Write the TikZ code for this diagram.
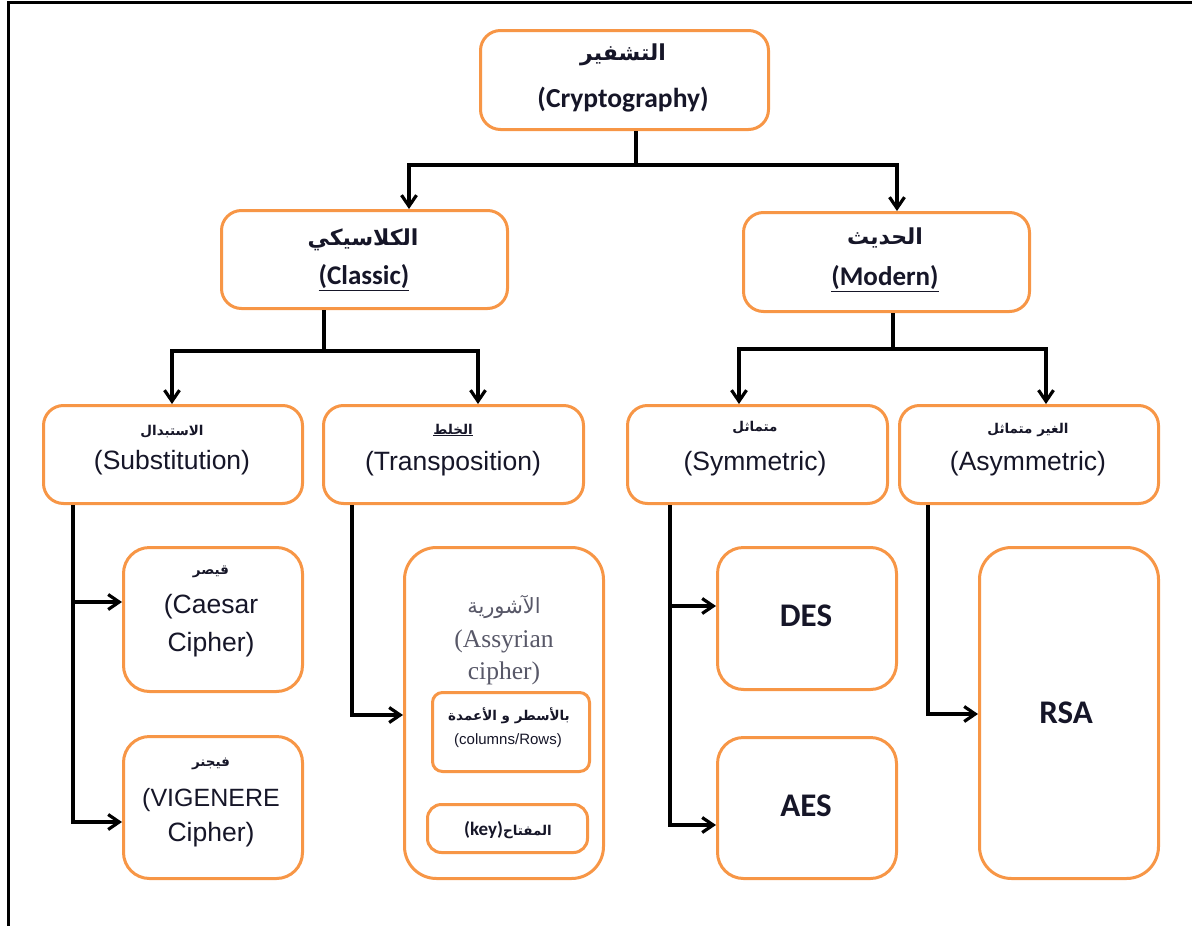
\documentclass[tikz,border=0pt]{standalone}
\usepackage{fontspec}
\usetikzlibrary{arrows.meta}
\setmainfont{Liberation Sans}
\newfontfamily\calibri{Carlito}
\newfontfamily\timesf{Liberation Serif}
\newfontfamily\arabicfont[Script=Arabic]{DejaVu Sans}
\TeXXeTstate=1
\definecolor{boxorange}{RGB}{247,150,70}
\definecolor{ink}{RGB}{22,22,40}
\definecolor{serifgray}{RGB}{88,88,104}
\newcommand{\artext}[1]{{\arabicfont\beginR #1\endR}}

\begin{document}
\begin{tikzpicture}[x=1pt,y=-1pt,
  box/.style={draw=boxorange,line width=3pt,fill=white,inner sep=0pt,
              anchor=north west,rounded corners=#1},
  box/.default=20pt,
  txt/.style={inner sep=0pt,text=ink,font=#1},
  artitle/.style={inner sep=0pt,text=ink,font=\arabicfont\bfseries\fontsize{22}{24}\selectfont},
  arsmall/.style={inner sep=0pt,text=ink,font=\arabicfont\bfseries\fontsize{13.5}{15}\selectfont},
  conn/.style={line width=3.2pt,draw=black},
  arr/.style={conn,-{Straight Barb[length=11pt,width=15pt]}}]

\useasboundingbox (0,0) rectangle (1192,926);

% page frame (left and top edges)
\draw[line width=3pt] (8.5,926) -- (8.5,2) -- (1192,2);

% ---------- boxes ----------
\node[box,minimum width=288pt,minimum height=99pt] (crypto) at (479,29) {};
\node[box,minimum width=286pt,minimum height=98pt] (classic) at (220,209) {};
\node[box,minimum width=286pt,minimum height=99pt] (modern) at (742,211) {};

\node[box,minimum width=259pt,minimum height=98pt] (subst) at (42,404) {};
\node[box,minimum width=260pt,minimum height=98pt] (transp) at (322,404) {};
\node[box,minimum width=260pt,minimum height=98pt] (sym) at (626,404) {};
\node[box,minimum width=259pt,minimum height=98pt] (asym) at (898,404) {};

\node[box=26pt,minimum width=179pt,minimum height=144pt] (caesar) at (122,546) {};
\node[box=26pt,minimum width=179pt,minimum height=142pt] (vigen) at (122,735) {};
\node[box=32pt,minimum width=199pt,minimum height=331pt] (assyr) at (403,546) {};
\node[box=10pt,minimum width=157pt,minimum height=79pt] (colrow) at (431,691) {};
\node[box=14pt,minimum width=160pt,minimum height=48pt] (keybox) at (426,803) {};
\node[box=26pt,minimum width=179pt,minimum height=142pt] (des) at (716,546) {};
\node[box=26pt,minimum width=179pt,minimum height=141pt] (aes) at (716,736) {};
\node[box=32pt,minimum width=179pt,minimum height=331pt] (rsa) at (978,546) {};

% ---------- labels ----------
\node[artitle] (cryptoAr) at (623,55) {\artext{التشفير}};
\node[txt=\calibri\bfseries\fontsize{27.5}{30}\selectfont] (cryptoEn) at (623,100) {(Cryptography)};

\node[artitle] (classicAr) at (363,240) {\artext{الكلاسيكي}};
\node[txt=\calibri\bfseries\fontsize{27}{30}\selectfont] (classicEn) at (364,278) {\underline{(Classic)}};

\node[artitle] (modernAr) at (885,238) {\artext{الحديث}};
\node[txt=\calibri\bfseries\fontsize{27}{30}\selectfont] (modernEn) at (885,279) {\underline{(Modern)}};

\node[arsmall] (substAr) at (172,432) {\artext{الاستبدال}};
\node[txt=\fontsize{26.5}{28}\selectfont] (substEn) at (172,463) {(Substitution)};

\node[arsmall] (transpAr) at (453,430) {\underline{\artext{الخلط}}};
\node[txt=\fontsize{26.5}{28}\selectfont] (transpEn) at (453,464) {(Transposition)};

\node[arsmall] (symAr) at (755,428) {\artext{متماثل}};
\node[txt=\fontsize{26.5}{28}\selectfont] (symEn) at (755,464) {(Symmetric)};

\node[arsmall] (asymAr) at (1028,430) {\artext{الغير متماثل}};
\node[txt=\fontsize{26.5}{28}\selectfont] (asymEn) at (1028,464) {(Asymmetric)};

\node[arsmall] (caesarAr) at (211,572) {\artext{قيصر}};
\node[txt=\fontsize{26.5}{28}\selectfont] (caesarEn1) at (211,607) {(Caesar};
\node[txt=\fontsize{26.5}{28}\selectfont] (caesarEn2) at (211,645) {Cipher)};

\node[arsmall] (vigenAr) at (211,764) {\artext{فيجنر}};
\node[txt=\fontsize{25}{28}\selectfont] (vigenEn1) at (211,800) {(VIGENERE};
\node[txt=\fontsize{26.5}{28}\selectfont] (vigenEn2) at (211,835) {Cipher)};

\node[inner sep=0pt,text=serifgray,font=\arabicfont\fontsize{21}{24}\selectfont] (assyrAr) at (504,607) {\artext{الآشورية}};
\node[txt=\timesf\fontsize{25.5}{28}\selectfont,text=serifgray] (assyrEn1) at (504,641) {(Assyrian};
\node[txt=\timesf\fontsize{25.5}{28}\selectfont,text=serifgray] (assyrEn2) at (504,673) {cipher)};

\node[arsmall] (colrowAr) at (509,716) {\artext{بالأسطر و الأعمدة}};
\node[txt=\fontsize{15}{18}\selectfont] (colrowEn) at (508,741) {(columns/Rows)};

\node[inner sep=0pt,text=ink] (keyLbl) at (508,830)
  {{\calibri\bfseries\fontsize{19}{22}\selectfont (key)}{\arabicfont\bfseries\fontsize{13.5}{15}\selectfont\beginR المفتاح\endR}};

\node[txt=\calibri\bfseries\fontsize{33}{36}\selectfont] (desLbl) at (806,616) {DES};
\node[txt=\calibri\bfseries\fontsize{33}{36}\selectfont] (aesLbl) at (806,806) {AES};
\node[txt=\calibri\bfseries\fontsize{33}{36}\selectfont] (rsaLbl) at (1066,713) {RSA};

% ---------- connectors ----------
% root split
\coordinate (j0) at (636,165);
\coordinate (j0l) at (409,165);
\coordinate (j0r) at (897,165);
\draw[conn] (crypto.south -| j0) -- (j0);
\draw[arr] (j0) -- (j0l) -- (j0l |- classic.north);
\draw[arr] (j0) -- (j0r) -- (j0r |- modern.north);

% classic split
\coordinate (j1) at (324,351);
\coordinate (j1l) at (172,351);
\coordinate (j1r) at (478,351);
\draw[conn] (classic.south -| j1) -- (j1);
\draw[arr] (j1) -- (j1l) -- (j1l |- subst.north);
\draw[arr] (j1) -- (j1r) -- (j1r |- transp.north);

% modern split
\coordinate (j2) at (893,349);
\coordinate (j2l) at (739,349);
\coordinate (j2r) at (1046,349);
\draw[conn] (modern.south -| j2) -- (j2);
\draw[arr] (j2) -- (j2l) -- (j2l |- sym.north);
\draw[arr] (j2) -- (j2r) -- (j2r |- asym.north);

% substitution branch
\coordinate (s1) at (73,602);
\coordinate (s2) at (73,822);
\draw[arr] (subst.south -| s1) -- (s2) -- (vigen.west |- s2);
\draw[arr] (s1) -- (caesar.west |- s1);

% transposition branch
\coordinate (t1) at (352,715);
\draw[arr] (transp.south -| t1) -- (t1) -- (assyr.west |- t1);

% symmetric branch
\coordinate (m1) at (670,606);
\coordinate (m2) at (670,825);
\draw[arr] (sym.south -| m1) -- (m2) -- (aes.west |- m2);
\draw[arr] (m1) -- (des.west |- m1);

% asymmetric branch
\coordinate (a1) at (928,714);
\draw[arr] (asym.south -| a1) -- (a1) -- (rsa.west |- a1);

\end{tikzpicture}
\end{document}
